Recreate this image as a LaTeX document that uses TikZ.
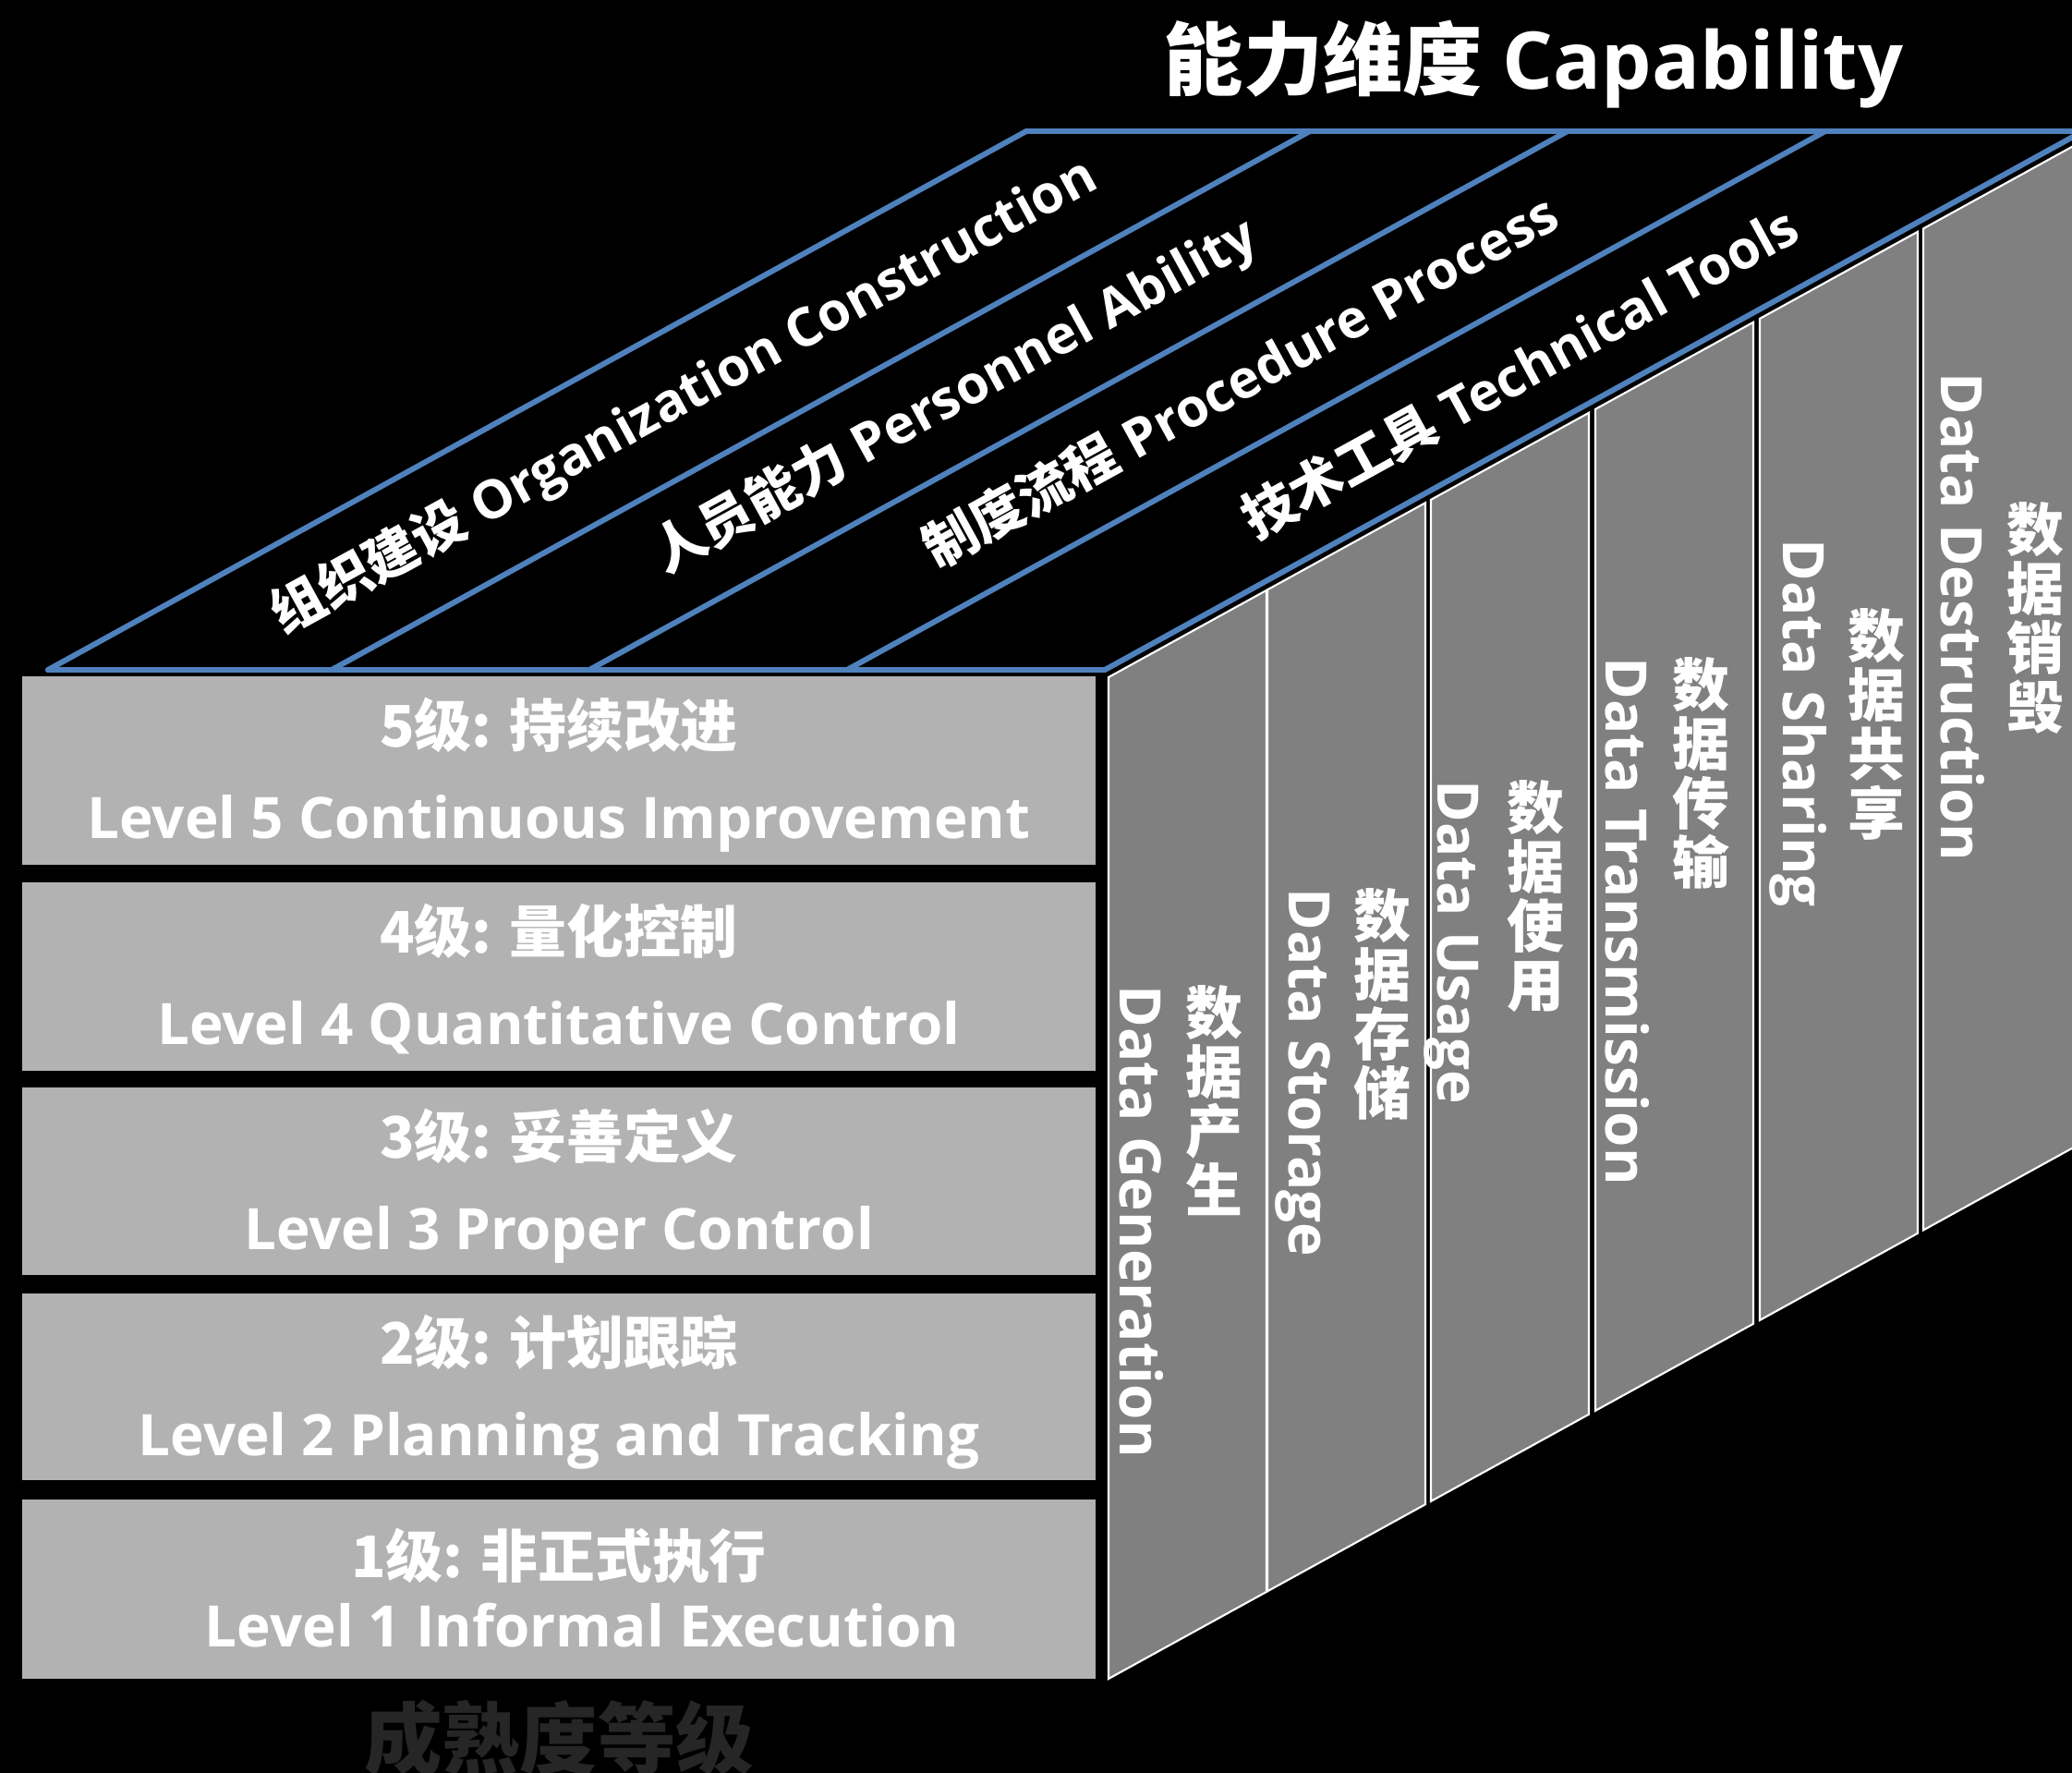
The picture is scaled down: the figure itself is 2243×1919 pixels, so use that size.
\documentclass[tikz,border=0pt]{standalone}
\usepackage{fontspec}
\setmainfont{Open Sans}
\newfontfamily\cjk{Noto Sans CJK SC}
\usetikzlibrary{calc}

\definecolor{capblue}{RGB}{79,129,189}
\definecolor{boxgray}{RGB}{178,178,178}
\definecolor{stripgray}{RGB}{128,128,128}
\definecolor{labelgray}{RGB}{38,38,38}

\begin{document}
\begin{tikzpicture}[x=0.01cm, y=-0.01cm]
    \tikzstyle{edge} = [draw=capblue, line width=1.7pt, line cap=round];
    \tikzstyle{stripbox} = [fill=stripgray, draw=white, line width=0.6pt];
    \tikzstyle{lvltext} = [text=white, inner sep=0, font=\bfseries\fontsize{17.6}{21}\selectfont];
    \tikzstyle{toptext} = [text=white, inner sep=0, rotate=28.8, font=\bfseries\fontsize{16.4}{20}\selectfont];
    \tikzstyle{stripen} = [text=white, inner sep=0, rotate=-90, anchor=base west, font=\bfseries\fontsize{17.6}{21}\selectfont];
    \tikzstyle{stripzh} = [text=white, inner sep=0, anchor=north, align=center, font=\cjk\bfseries\fontsize{17.6}{18.2}\selectfont];

    \useasboundingbox (0,0) rectangle (2243,1919);
    \fill[black] (0,0) rectangle (2243,1919);
    \clip (0,0) rectangle (2243,1919);

    \node[text=white, inner sep=0, anchor=base, font=\bfseries\fontsize{24.5}{28}\selectfont] (title) at (1660,97) {{\cjk 能力维度} Capability};

    \foreach \yt/\yb/\dz/\de/\ex/\zh/\en in {
        732/936/76/175/605/5级: 持续改进/Level 5 Continuous Improvement,
        955/1159/76/175/605/4级: 量化控制/Level 4 Quantitative Control,
        1177/1380/76/175/605/3级: 妥善定义/Level 3 Proper Control,
        1400/1602/76/175/605/2级: 计划跟踪/Level 2 Planning and Tracking,
        1623/1817/84/159/630/1级: 非正式执行/Level 1 Informal Execution} {
        \fill[boxgray] (24,\yt) rectangle (1186,\yb);
        \node[lvltext, anchor=base] at (605,{\yt+\dz}) {\cjk \zh};
        \node[lvltext, anchor=base] at (\ex,{\yt+\de}) {\en};
    }

    \node[text=labelgray, inner sep=0, font=\cjk\bfseries\fontsize{24}{28}\selectfont] (maturity) at (605,1881) {成熟度等级};

    \foreach \sx in {1200,1372,1549,1727,1905,2082}
        \draw[stripbox] (\sx,{733-(\sx-1200)*0.5505}) -- ++(171,-94.1) -- ++(0,1084) -- ++(-171,94.1) -- cycle;

    \foreach \ex/\zx/\et/\zt/\en/\zh in {
        1234/1314/1066/1066/Data Generation/数\\据\\产\\生,
        1417/1496/961/961/Data Storage/数\\据\\存\\储,
        1578/1662/844/844/Data Usage/数\\据\\使\\用,
        1760/1841/711/711/Data Transmission/数\\据\\传\\输,
        1952/2031/583/658/Data Sharing/数\\据\\共\\享,
        2123/2203/403/543/Data Destruction/数\\据\\销\\毁} {
        \node[stripen] at ({\ex-22},\et) {\en};
        \node[stripzh] at (\zx,\zt) {\zh};
    }

    \foreach \fx [count=\i from 0] in {52,359,638,917,1196} {
        \coordinate (F\i) at (\fx,725);
        \coordinate (B\i) at ($(F\i)+(1059,-583)$);
    }
    \draw[edge] (F0) -- (F4);
    \draw[edge] (B0) -- ++(1300,0);
    \foreach \i in {0,...,4}
        \draw[edge] (F\i) -- (B\i);

    \node[toptext] (org) at (741,429) {{\cjk 组织建设} Organization Construction};
    \node[toptext] (per) at (1034,429) {{\cjk 人员能力} Personnel Ability};
    \node[toptext] (pro) at (1342,411) {{\cjk 制度流程} Procedure Process};
    \node[toptext] (tec) at (1645,402) {{\cjk 技术工具} Technical Tools};
\end{tikzpicture}
\end{document}
